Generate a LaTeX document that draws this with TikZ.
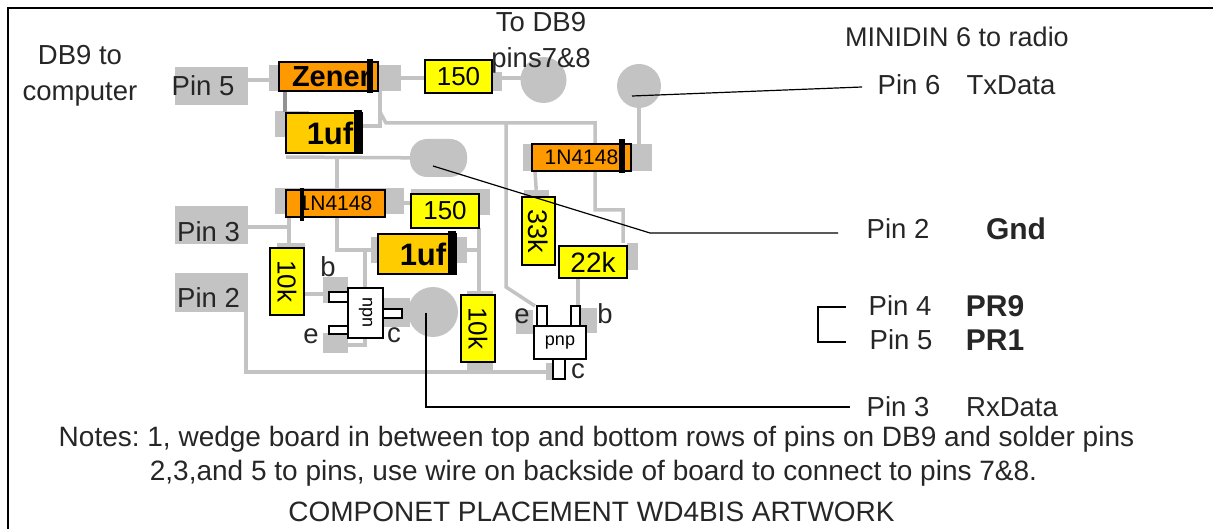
\documentclass[tikz,border=0pt]{standalone}
\usepackage{fontspec}
\setmainfont{Liberation Sans}
\usetikzlibrary{calc,positioning}
\definecolor{padgray}{HTML}{C3C3C3}
\definecolor{partyellow}{HTML}{FFFF00}
\definecolor{partorange}{HTML}{FF9900}
\definecolor{partgold}{HTML}{FFCC00}
\tikzset{
  pad/.style={fill=padgray,inner sep=0pt},
  padc/.style={circle,fill=padgray,inner sep=0pt},
  trace/.style={draw=padgray,line width=3.5pt},
  lead/.style={draw=black,line width=1.2pt},
  part/.style={draw=black,line width=1.5pt,inner sep=0pt},
  res/.style={part,fill=partyellow},
  dio/.style={part,fill=partorange},
  capbox/.style={part,fill=partgold},
  tran/.style={part,fill=white},
  band/.style={fill=black},
  txt/.style={font=\fontsize{27.5}{36}\selectfont,text=black!85,inner sep=0pt},
  notetxt/.style={font=\fontsize{28}{36}\selectfont\frenchspacing,text=black!85,inner sep=0pt},
  boldtxt/.style={font=\fontsize{30}{36}\selectfont\bfseries,text=black!85,inner sep=0pt},
  pointer/.style={draw=black,line width=1.2pt}
}

\begin{document}
\begin{tikzpicture}[x=1pt,y=-1pt]
\useasboundingbox (0,0) rectangle (1213,529);
\draw[line width=1.5pt] (8,529) -- (8,8) -- (1213,8);
% pads
\node[pad,minimum width=73pt,minimum height=38pt] (pin5) at (211.5,86) {};
\node[pad,minimum width=73pt,minimum height=38pt] (pin3) at (211.5,225) {};
\node[pad,minimum width=73pt,minimum height=39pt] (pin2) at (211.5,292.5) {};
\node[pad,minimum width=132pt,minimum height=26pt] (zenpad) at (335,78) {};
\node[pad,minimum width=34pt,minimum height=26pt] (ufpad) at (292,124) {};
\node[pad,minimum width=129pt,minimum height=26pt] (dlpad) at (339.5,201) {};
\node[pad,minimum width=129pt,minimum height=27pt] (dupad) at (587.5,158) {};
\node[pad,minimum width=79pt,minimum height=26pt] (slpad) at (450.5,202) {};
\node[pad,minimum width=96pt,minimum height=26pt] (uflpad) at (419,250) {};
\node[pad,minimum width=28pt,minimum height=5pt] (tklpad) at (291,245.5) {};
\node[pad,minimum width=26pt,minimum height=79pt] (tkrpad) at (480,330.5) {};
\node[pad,minimum width=25pt,minimum height=8pt] (ttkpad) at (536.5,194) {};
\node[pad,minimum width=11pt,minimum height=27pt] (twopad) at (632.5,256.5) {};
\node[pad,minimum width=25pt,minimum height=26pt] (bnpad) at (335.5,290) {};
\node[pad,minimum width=25pt,minimum height=20pt] (enpad) at (335.5,343) {};
\node[pad,minimum width=27pt,minimum height=29pt] (cnpad) at (396.5,312.5) {};
\node[pad,minimum width=17pt,minimum height=24pt] (eppad) at (524.5,322) {};
\node[pad,minimum width=17pt,minimum height=25pt] (bppad) at (588.5,320.5) {};
\node[pad,minimum width=8pt,minimum height=17pt] (cppad) at (550,371.5) {};
\node[pad,minimum width=10pt,minimum height=19pt] (spad) at (497,81.5) {};
\node[padc,minimum size=46pt] (db) at (543.5,80) {};
\node[padc,minimum size=44pt] (txd) at (639,86) {};
\node[padc,minimum size=50pt] (rxd) at (433,312) {};
\node[pad,rounded corners=17pt,minimum width=57pt,minimum height=38pt] (gnd) at (438.5,158) {};
% traces
\draw[trace] (pin5 |- 0,80) -- (zenpad |- 0,80);
\draw[trace] (zenpad |- 0,78) -- (spad |- 0,78) -- (db |- 0,78);
\draw[trace,draw=padgray!75!black] (285,91) -- (285,112);
\draw[trace] (362,126) -- (380,126) -- (380,91);
\draw[trace] (380,112) -- (386,123) -- (595,123) -- (595,210) -- (623,210) -- (623,243);
\draw[trace] (506,123) -- (506,287) -- (535,306);
\draw[trace] (286,157) -- (gnd);
\draw[trace] (337,157) -- (337,250) -- (uflpad);
\draw[trace] (txd) -- (txd |- dupad);
\draw[trace] (535,171) -- (ttkpad);
\draw[trace] (578,278) -- (578,306);
\draw[trace] (dlpad |- 0,203) -- (slpad |- 0,203);
\draw[trace] (479,228) -- (479,291);
\draw[trace] (uflpad) -- (479,250);
\draw[trace] (365,250) -- (365,345) -- (enpad |- 0,345);
\draw[trace] (pin3 |- 0,227) -- (289,227) -- (289,243);
\draw[trace] (289,217) -- (289,227);
\draw[trace] (304,294) -- (bnpad |- 0,294);
\draw[trace] (246,312) -- (246,372) -- (cppad |- 0,372);
% parts
\node[dio,minimum width=99pt,minimum height=29pt] (zener) at (328.5,76.5) {\fontsize{29}{30}\selectfont\bfseries\hspace{6pt}Zener};
\fill[band] (367,59) rectangle (373,93);
\node[res,minimum width=67pt,minimum height=33pt] (r150a) at (458.5,76.5) {\fontsize{26}{30}\selectfont 150};
\node[capbox,minimum width=76pt,minimum height=40pt] (c1a) at (324,133) {\fontsize{31}{30}\selectfont\bfseries\hspace{12pt}1uf};
\fill[band] (354,110) rectangle (362,153);
\node[dio,minimum width=99pt,minimum height=27pt] (d1b) at (581.5,157.5) {\fontsize{21}{24}\selectfont 1N4148};
\fill[band] (619,139) rectangle (625,173);
\node[dio,minimum width=99pt,minimum height=27pt] (d1a) at (335.5,203.5) {\fontsize{21}{24}\selectfont 1N4148};
\fill[band] (300,188) rectangle (304,221);
\node[res,minimum width=68pt,minimum height=34pt] (r150b) at (445,211) {\fontsize{26}{30}\selectfont 150};
\node[capbox,minimum width=78pt,minimum height=40pt] (c1b) at (417,254) {\fontsize{31}{30}\selectfont\bfseries\hspace{12pt}1uf};
\fill[band] (448,231) rectangle (456,274);
\node[res,minimum width=34pt,minimum height=67pt] (r10a) at (287,281.5) {\rotatebox{-90}{\fontsize{26}{30}\selectfont 10k}};
\node[res,minimum width=34pt,minimum height=67pt] (r10b) at (478,328.5) {\rotatebox{-90}{\fontsize{26}{30}\selectfont 10k}};
\node[res,minimum width=33pt,minimum height=68pt] (r33) at (538.5,231) {\rotatebox{-90}{\fontsize{27}{30}\selectfont 33k}};
\node[res,minimum width=68pt,minimum height=32pt] (r22) at (593,262) {\fontsize{28}{30}\selectfont 22k};
% transistors
\draw[lead,fill=white] (329,292) rectangle (348,302);
\draw[lead,fill=white] (329,326) rectangle (348,334);
\draw[lead,fill=white] (383,309) rectangle (402,318);
\node[tran,minimum width=35pt,minimum height=50pt] (npn) at (365.5,313) {\rotatebox{-90}{\fontsize{18}{20}\selectfont npn}};
\draw[lead,fill=white] (537,306) rectangle (547,326);
\draw[lead,fill=white] (571,306) rectangle (580,326);
\draw[lead,fill=white] (553,359) rectangle (565,379);
\node[tran,minimum width=52pt,minimum height=33pt] (pnp) at (560,342.5) {\fontsize{18}{20}\selectfont pnp};
% pointers
\coordinate (txdend) at (862,87);
\coordinate (gndbend) at (650,233);
\coordinate (gndend) at (838,233);
\coordinate (rxdbend) at (426,407);
\coordinate (rxdend) at (850,407);
\draw[pointer] (632,96) -- (txdend);
\draw[pointer] (433,166) -- (gndbend) -- (gndend);
\draw[pointer] (426,313) -- (rxdbend) -- (rxdend);
\draw[pointer] (846,307) -- (818,307) -- (818,342) -- (846,342);
% labels
\node[txt,align=center] (dbcomp) at (80,76) {DB9 to\\computer};
\node[txt,align=center] (dbpins) at (541,43) {To DB9\\pins7\&8};
\node[txt,font=\fontsize{27}{36}\selectfont] (minidin) at (957,37) {MINIDIN 6 to radio};
\node[txt] at (203,86) {Pin 5};
\node[txt] at (208.5,232) {Pin 3};
\node[txt] at (208.5,298) {Pin 2};
\node[txt] (lb) at (328,267) {b};
\node[txt] (le) at (311,336) {e};
\node[txt] (lc) at (394,335) {c};
\node[txt] (lep) at (522,316) {e};
\node[txt] (lbp) at (605,314) {b};
\node[txt] (lcp) at (578,371) {c};
\node[txt] (p6) at (909,85) {Pin 6};
\node[txt] (txdata) at (1011,85) {TxData};
\node[txt] (p2) at (898,229) {Pin 2};
\node[boldtxt] (gndlab) at (1016,229) {Gnd};
\node[txt] (p4) at (900,306) {Pin 4};
\node[boldtxt] (pr9) at (995,306) {PR9};
\node[txt] (p5) at (901,340) {Pin 5};
\node[boldtxt] (pr1) at (995,340) {PR1};
\node[txt] (p3) at (898,407) {Pin 3};
\node[txt] (rxdata) at (1012,407) {RxData};
\node[notetxt] (note1) at (596.5,439) {Notes: 1, wedge board in between top and bottom rows of pins on DB9 and solder pins};
\node[notetxt] (note2) at (593.5,473) {2,3,and 5 to pins, use wire on backside of board to connect to pins 7\&8.};
\node[notetxt] (art) at (591.5,512) {COMPONET PLACEMENT WD4BIS ARTWORK};
\end{tikzpicture}
\end{document}
